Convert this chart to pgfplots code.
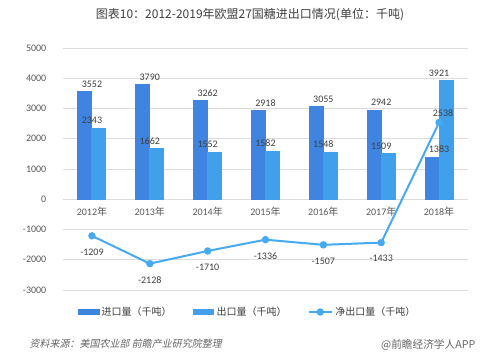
\documentclass[border=0pt]{standalone}
\usepackage{pgfplots}
\pgfplotsset{compat=1.18}
\usepackage{fontspec}
\setmainfont{Carlito}
\newfontfamily\cjk{Noto Sans CJK SC}
\newfontfamily\cjkslant[FakeSlant=0.2]{Noto Sans CJK SC}
\definecolor{impc}{HTML}{3E84E0}
\definecolor{expc}{HTML}{41A0EC}
\definecolor{netc}{HTML}{47A9F0}
\definecolor{gridc}{HTML}{DCDCDC}
\definecolor{txtc}{HTML}{404040}
\definecolor{tickc}{HTML}{595959}
\begin{document}
\begin{tikzpicture}
\useasboundingbox[fill=white] (0,0) rectangle (375pt,271.5pt);
\node[font=\cjk\fontsize{9}{10}\selectfont, text=txtc] at (187.5pt,260.25pt) {图表10：2012-2019年欧盟27国糖进出口情况(单位：千吨)};
\begin{axis}[
  at={(47.25pt,54pt)}, anchor=south west,
  scale only axis, width=303.75pt, height=181.5pt,
  xmin=-0.5, xmax=6.5, ymin=-3000, ymax=5000,
  ytick={-3000,-2000,...,5000},
  xtick={0,...,6},
  xticklabels={2012{\cjk 年},2013{\cjk 年},2014{\cjk 年},2015{\cjk 年},2016{\cjk 年},2017{\cjk 年},2018{\cjk 年}},
  axis line style={draw=none},
  major tick length=0pt,
  ymajorgrids, grid style={draw=gridc, line width=0.6pt},
  /pgf/number format/assume math mode=true,
  /pgf/number format/1000 sep={},
  tick label style={font=\fontsize{7.5}{9}\selectfont, text=tickc},
  xticklabel style={yshift=64.5pt, inner sep=2pt},
  yticklabel style={xshift=-9pt},
  clip=false,
  legend style={at={(0.457,0)}, anchor=center, yshift=-16.5pt, draw=none, fill=none,
    legend columns=3, font=\cjk\fontsize{7.5}{9}\selectfont, text=txtc,
    /tikz/every even column/.append style={column sep=14pt}},
  legend cell align=left,
  every node near coord/.append style={font=\fontsize{7.5}{9}\selectfont, text=txtc},
]
\addplot[ybar, bar width=10.5pt, bar shift=-5.25pt, fill=impc, draw=impc, line width=0pt,
  nodes near coords,
  legend image code/.code={\fill[impc] (0cm,-0.055cm) rectangle (0.55cm,0.055cm);}]
  coordinates {(0,3552) (1,3790) (2,3262) (3,2918) (4,3055) (5,2942) (6,1383)};
\addlegendentry{进口量（千吨）}
\addplot[ybar, bar width=10.5pt, bar shift=5.25pt, fill=expc, draw=expc, line width=0pt,
  nodes near coords,
  legend image code/.code={\fill[expc] (0cm,-0.055cm) rectangle (0.55cm,0.055cm);}]
  coordinates {(0,2343) (1,1662) (2,1552) (3,1582) (4,1548) (5,1509) (6,3921)};
\addlegendentry{出口量（千吨）}
\addplot[color=netc, line width=1.5pt, mark=*, mark size=2pt,
  legend image code/.code={\draw[netc, line width=1.5pt] (0cm,0cm) -- (0.6cm,0cm); \fill[netc] (0.3cm,0cm) circle (2pt);}]
  coordinates {(0,-1209) (1,-2128) (2,-1710) (3,-1336) (4,-1507) (5,-1433) (6,2538)};
\addlegendentry{净出口量（千吨）}
\addplot[draw=none, mark=none, forget plot, nodes near coords,
  every node near coord/.append style={anchor=north, yshift=-6pt}]
  coordinates {(0,-1209) (1,-2128) (2,-1710) (3,-1336) (4,-1507) (5,-1433)};
\addplot[draw=none, mark=none, forget plot, nodes near coords,
  every node near coord/.append style={anchor=south, xshift=3pt, yshift=1pt}]
  coordinates {(6,2538)};
\end{axis}
\node[anchor=west, font=\cjkslant\fontsize{7.5}{9}\selectfont, text=txtc!80] at (18.75pt,13.5pt) {资料来源：美国农业部 前瞻产业研究院整理};
\node[anchor=east, font=\cjk\fontsize{8}{9}\selectfont, text=txtc!80] at (360pt,12.5pt) {@前瞻经济学人APP};
\end{tikzpicture}
\end{document}
